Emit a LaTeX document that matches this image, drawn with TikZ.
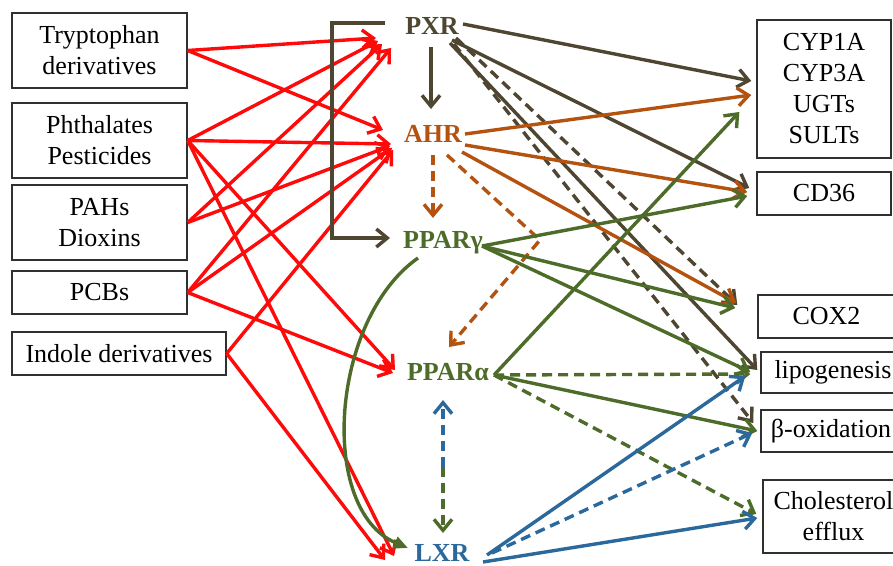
\documentclass[tikz,border=0pt]{standalone}
\usepackage{fontspec}
\setmainfont{Liberation Serif}
\usepackage{xcolor}
\usepackage{tikz}
\usetikzlibrary{arrows.meta}
\definecolor{Hot}{HTML}{FF0A0A}
\definecolor{Umber}{HTML}{4F4631}
\definecolor{Rust}{HTML}{B4520F}
\definecolor{Moss}{HTML}{4D6B29}
\definecolor{Sea}{HTML}{2B699C}
\definecolor{Frame}{HTML}{303030}

\begin{document}
\begin{tikzpicture}[x=1pt,y=-1pt,
  srcbox/.style={draw=Frame,line width=1.4pt,inner sep=0pt,align=center,font=\fontsize{26}{31}\selectfont},
  recep/.style={anchor=base,inner sep=0pt,font=\fontsize{26}{31}\selectfont\bfseries},
  arr/.style={line width=3.4pt,-{Straight Barb[length=11pt,width=18pt]}},
  dsh/.style={dash pattern=on 10pt off 6pt}]
\useasboundingbox (0,0) rectangle (893,565);
\fill[white] (0,0) rectangle (893,565);
% sources
\node[srcbox,minimum width=175pt,minimum height=75pt] (trp) at (99.5,50.5) {Tryptophan\\derivatives};
\node[srcbox,minimum width=175pt,minimum height=75pt] (pht) at (99.5,140.5) {Phthalates\\Pesticides};
\node[srcbox,minimum width=175pt,minimum height=75pt] (pah) at (99.5,222.5) {PAHs\\Dioxins};
\node[srcbox,minimum width=175pt,minimum height=43pt] (pcb) at (99.5,292.5) {PCBs};
\node[srcbox,minimum width=214pt,minimum height=43pt] (ind) at (119,353.5) {Indole derivatives};
% receptors
\node[recep,text=Umber] (pxr) at (432,34) {PXR};
\node[recep,text=Rust] (ahr) at (433,142) {AHR};
\node[recep,text=Moss] (ppg) at (443,248) {PPARγ};
\node[recep,text=Moss] (ppa) at (448,380) {PPARα};
\node[recep,text=Sea] (lxr) at (442,561) {LXR};
% targets
\node[srcbox,minimum width=134pt,minimum height=138pt] (cyp) at (824,89) {CYP1A\\CYP3A\\UGTs\\SULTs};
\node[srcbox,minimum width=134pt,minimum height=43pt] (cd) at (824,193.5) {CD36};
\node[srcbox,minimum width=137pt,minimum height=43pt] (cox) at (826.5,316.5) {COX2};
\node[srcbox,minimum width=144pt,minimum height=41pt] (lip) at (833,372.5) {lipogenesis};
\node[srcbox,minimum width=140pt,minimum height=42pt] (betaox) at (831,431) {β-oxidation};
\node[srcbox,minimum width=141pt,minimum height=73pt] (chol) at (833.5,516.5) {Cholesterol\\efflux};

% ligands
\draw[arr,Hot] (trp.east) -- ([shift={(-56,4)}]pxr.base);
\draw[arr,Hot] (trp.east) -- ([shift={(-50,-12)}]ahr.base);
\draw[arr,Hot] (pht.east) -- ([shift={(-54,7)}]pxr.base);
\draw[arr,Hot] (pht.east) -- ([shift={(-42,2)}]ahr.base);
\draw[arr,Hot] (pht.east) -- ([shift={(-53,-10)}]ppa.base);
\draw[arr,Hot] (pht.east) -- ([shift={(-48,-5)}]lxr.base);
\draw[arr,Hot] (pah.east) -- ([shift={(-50,10)}]pxr.base);
\draw[arr,Hot] (pah.east) -- ([shift={(-43,4)}]ahr.base);
\draw[arr,Hot] (pcb.east) -- ([shift={(-41,14)}]pxr.base);
\draw[arr,Hot] (pcb.east) -- ([shift={(-41,6)}]ahr.base);
\draw[arr,Hot] (pcb.east) -- ([shift={(-55,-7)}]ppa.base);
\draw[arr,Hot] (ind.east) -- ([shift={(-40,8)}]ahr.base);
\draw[arr,Hot] (ind.east) -- ([shift={(-57,-1)}]lxr.base);

% crosstalk
\draw[arr,Umber] ([shift={(-47,-11)}]pxr.base) -- ++(-53,0) |- ([shift={(-53,-10)}]ppg.base);
\draw[arr,Umber] ([shift={(-1,13)}]pxr.base) -- ([shift={(-2,-33)}]ahr.base);
\draw[arr,dsh,Rust] ([shift={(0,13)}]ahr.base) -- ([shift={(-10,-30)}]ppg.base);
\draw[arr,dsh,Rust] ([shift={(14,13)}]ahr.base) -- ++(93,85) -- ([shift={(1,-33)}]ppa.base);
\draw[line width=3.4pt,Moss,-{Triangle[length=14pt,width=12pt]}] ([shift={(-25,10)}]ppg.base) .. controls ([shift={(-113,72)}]ppg.base) and ([shift={(-124,-51)}]lxr.base) .. ([shift={(-34,-13)}]lxr.base);
\draw[arr,dsh,Sea] ([shift={(-5,87)}]ppa.base) -- ([shift={(-5,20)}]ppa.base);
\draw[arr,dsh,Moss] ([shift={(1,-94)}]lxr.base) -- ([shift={(1,-28)}]lxr.base);

% PXR targets
\draw[arr,Umber] ([shift={(31,-10)}]pxr.base) -- ([shift={(-5,-8)}]cyp.west);
\draw[arr,Umber] ([shift={(20,6)}]pxr.base) -- ([shift={(-7,-5.5)}]cd.west);
\draw[arr,dsh,Umber] ([shift={(24,4)}]pxr.base) -- ([shift={(-20,-11.5)}]cox.west);
\draw[arr,Umber] ([shift={(18,9)}]pxr.base) -- ([shift={(-3,-2.5)}]lip.west);
\draw[arr,dsh,Umber] ([shift={(22,10)}]pxr.base) -- ([shift={(-7,-8)}]betaox.west);
% AHR targets
\draw[arr,Rust] ([shift={(32,-8)}]ahr.base) -- ([shift={(-5,6)}]cyp.west);
\draw[arr,Rust] ([shift={(32,3)}]ahr.base) -- ([shift={(-9,-1.5)}]cd.west);
\draw[arr,Rust] ([shift={(29,10)}]ahr.base) -- ([shift={(-21,-13.5)}]cox.west);
% PPARg targets
\draw[arr,Moss] ([shift={(39,-2)}]ppg.base) -- ([shift={(-9,2.5)}]cd.west);
\draw[arr,Moss] ([shift={(39,-2)}]ppg.base) -- ([shift={(-22,-8.5)}]cox.west);
\draw[arr,Moss] ([shift={(39,-2)}]ppg.base) -- ([shift={(-10,-0.5)}]lip.west);
% PPARa targets
\draw[arr,Moss] ([shift={(46,-5)}]ppa.base) -- ([shift={(-17,23)}]cyp.west);
\draw[arr,dsh,Moss] ([shift={(46,-5)}]ppa.base) -- ([shift={(-10,1.5)}]lip.west);
\draw[arr,Moss] ([shift={(46,-5)}]ppa.base) -- ([shift={(-3,0)}]betaox.west);
\draw[arr,dsh,Moss] ([shift={(46,-5)}]ppa.base) -- ([shift={(-6,-2.5)}]chol.west);
% LXR targets
\draw[arr,Sea] ([shift={(45,-6)}]lxr.base) -- ([shift={(-15,3.5)}]lip.west);
\draw[arr,dsh,Sea] ([shift={(50,-8)}]lxr.base) -- ([shift={(-8,2)}]betaox.west);
\draw[arr,Sea] ([shift={(41,1)}]lxr.base) -- ([shift={(-5,1.5)}]chol.west);
\end{tikzpicture}
\end{document}
